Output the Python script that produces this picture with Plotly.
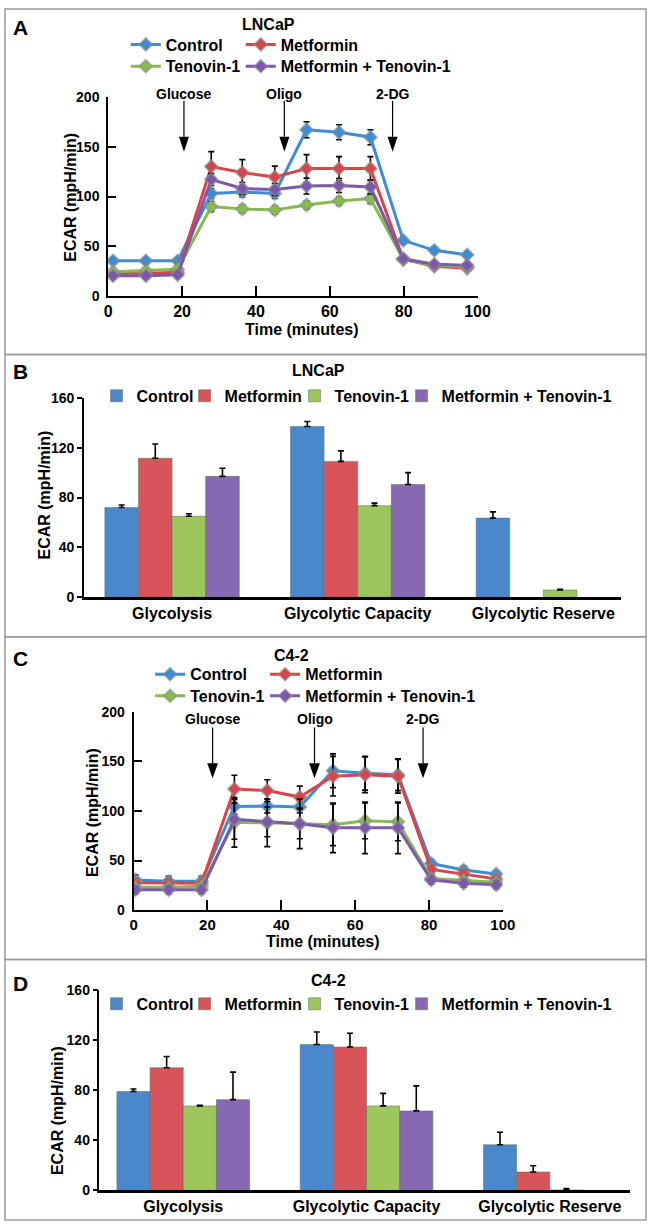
import plotly.graph_objects as go

# ── Figure size (pixels) ─────────────────────────────────────────────────────
W, H = 661, 1232

# ── Data: panels A / C (ECAR time course) ───────────────────────────────────
series = ["Control", "Metformin", "Tenovin-1", "Metformin + Tenovin-1"]

time_A = [1.3, 10.2, 18.8, 27.9, 36.3, 45.1, 53.7, 62.5, 71.0, 79.9, 88.3, 97.2]
control_A = [35.5, 35.5, 35.5, 103, 104.5, 103, 167, 164.5, 159.5, 56, 46, 41.5]
control_A_err = [3, 3, 3, 5, 5, 5, 8, 7.5, 7.5, 3, 3, 3]
metformin_A = [23, 23, 24, 130, 124, 119.5, 128, 128, 128, 37, 30, 28]
metformin_A_err = [3, 3, 3, 15, 13, 11, 14, 12, 12, 3, 3, 3]
tenovin_A = [24.5, 25.5, 27, 90, 87.5, 86.5, 91.5, 95.5, 98, 37, 31, 29.5]
tenovin_A_err = [3, 3, 3, 5, 4, 4, 4, 4, 5, 3, 3, 3]
combo_A = [20.5, 20.5, 21.5, 117, 108, 107, 110.5, 111, 109.5, 37.5, 32, 31]
combo_A_err = [3, 3, 3, 6, 6, 6, 8, 7, 7, 3, 3, 3]

time_C = [0.5, 9.5, 18.4, 27.3, 36.2, 45.0, 54.0, 62.7, 71.6, 80.6, 89.4, 98.2]
control_C = [30.5, 29, 29, 104.5, 105, 104, 140.5, 138, 136.5, 47, 40.5, 36.5]
control_C_err = [5, 5, 5, 8, 7, 6, 17, 17, 16, 4, 4, 3]
metformin_C = [27.5, 27, 27, 122, 120.5, 114, 135, 136.5, 135, 41, 36.5, 31.5]
metformin_C_err = [4, 4, 4, 14, 11, 11, 20, 18, 17, 4, 4, 3]
tenovin_C = [23, 23, 24, 88.5, 88, 87, 86, 90, 89, 32, 30, 28]
tenovin_C_err = [4, 4, 4, 25, 24, 25, 21, 18, 19, 4, 4, 4]
combo_C = [20.5, 20.5, 20.5, 91.5, 89, 87, 83, 83, 83, 30.5, 27, 25.5]
combo_C_err = [4, 4, 4, 20, 15, 15, 25, 26, 26, 4, 4, 4]

# injections
events = ["Glucose", "Oligo", "2-DG"]
event_time_A = [20.5, 47.7, 77.0]
event_time_C = [21.4, 49.0, 78.4]

# ── Data: panels B / D (glycolysis parameters) ──────────────────────────────
categories = ["Glycolysis", "Glycolytic Capacity", "Glycolytic Reserve"]

control_B = [72, 137, 63.5]
control_B_err = [2, 4, 5]
metformin_B = [111.5, 109, None]
metformin_B_err = [11.5, 8.5, 0]
tenovin_B = [65, 73.5, 5.8]
tenovin_B_err = [2, 2, 0.5]
combo_B = [97, 90.5, None]
combo_B_err = [6.5, 9.5, 0]

control_D = [79, 116.5, 36.5]
control_D_err = [2, 10, 10]
metformin_D = [98, 114.5, 14.7]
metformin_D_err = [9, 11, 5]
tenovin_D = [67.5, 67.5, 0.4]
tenovin_D_err = [0.5, 10, 1.2]
combo_D = [72.5, 63.5, None]
combo_D_err = [22, 20, 0]

LINE_COLOURS = ["#3a8dd6", "#db4447", "#86bb4e", "#7d57ab"]
BAR_COLOURS = ["#4a88cb", "#d9535b", "#9dc65c", "#8669b1"]
FONT = "Liberation Sans, Arial, sans-serif"


def px(x):
    return x / W


def py(y):
    return 1 - y / H


fig = go.Figure()


# ── Line panels ─────────────────────────────────────────────────────────────
LINE_LEGENDWIDTH = [70, 100, 70, 175]


def add_time_course(t, ys, errs, xa, ya, legends):
    for i, (name, y, e) in enumerate(zip(series, ys, errs)):
        fig.add_trace(go.Scatter(
            x=t, y=y, name=name, mode="lines+markers",
            line=dict(color=LINE_COLOURS[i], width=3),
            marker=dict(symbol="diamond", size=10, color=LINE_COLOURS[i],
                        line=dict(color="rgba(140,140,140,0.55)", width=2)),
            error_y=dict(type="data", array=e, color="black", thickness=1.6, width=3),
            xaxis=xa, yaxis=ya, legend=legends[i // 2],
            legendwidth=LINE_LEGENDWIDTH[i],
        ))


add_time_course(time_A, [control_A, metformin_A, tenovin_A, combo_A],
                [control_A_err, metformin_A_err, tenovin_A_err, combo_A_err],
                "x", "y", ["legend", "legend2"])
add_time_course(time_C, [control_C, metformin_C, tenovin_C, combo_C],
                [control_C_err, metformin_C_err, tenovin_C_err, combo_C_err],
                "x3", "y3", ["legend3", "legend4"])


# ── Bar panels ──────────────────────────────────────────────────────────────
BAR_LEGENDWIDTH = [43, 65, 62, 175]


def add_bars(ys, errs, xa, ya, legend):
    for i, (name, y, e) in enumerate(zip(series, ys, errs)):
        fig.add_trace(go.Bar(
            x=categories, y=y, name=name,
            marker=dict(color=BAR_COLOURS[i], line=dict(color="rgba(90,110,90,0.5)", width=1)),
            error_y=dict(type="data", symmetric=False, array=e, arrayminus=[0] * len(e),
                         color="black", thickness=1.6, width=3),
            xaxis=xa, yaxis=ya, legend=legend, legendwidth=BAR_LEGENDWIDTH[i],
        ))


add_bars([control_B, metformin_B, tenovin_B, combo_B],
         [control_B_err, metformin_B_err, tenovin_B_err, combo_B_err], "x2", "y2", "legend5")
add_bars([control_D, metformin_D, tenovin_D, combo_D],
         [control_D_err, metformin_D_err, tenovin_D_err, combo_D_err], "x4", "y4", "legend6")


# ── Arrows for injections ───────────────────────────────────────────────────
shapes = []
annotations = []


def note(x, y, text, size, xref="paper", angle=0):
    annotations.append(dict(x=x, y=y, xref=xref, yref="paper", text=text, textangle=angle,
                            xanchor="center", yanchor="middle", showarrow=False,
                            font=dict(size=size)))


def add_events(times, xref, yref, label_px, shaft_top, head_top, tip, half_w):
    for name, t in zip(events, times):
        note(t, py(label_px), name, 14, xref=xref)
        shapes.append(dict(type="line", xref=xref, yref=yref, x0=t, x1=t,
                           y0=shaft_top, y1=head_top, line=dict(color="black", width=1.2)))
        shapes.append(dict(type="path", xref=xref, yref=yref,
                           path=f"M{t - half_w},{head_top} L{t + half_w},{head_top} L{t},{tip} Z",
                           fillcolor="black", line=dict(width=0)))


add_events(event_time_A, "x", "y", 87, 196, 160, 145, 1.35)
add_events(event_time_C, "x3", "y3", 720, 184, 148, 133, 1.45)

# ── Panel boxes, letters, titles ────────────────────────────────────────────
panel_edges = [1, 351, 637, 964, 1228]
for top, bottom in zip(panel_edges[:-1], panel_edges[1:]):
    shapes.append(dict(type="rect", xref="paper", yref="paper",
                       x0=px(1), x1=px(659), y0=py(bottom), y1=py(top),
                       line=dict(color="#9a9a9a", width=1.5)))

for letter, (lx, ly) in zip("ABCD", [(17, 20), (17, 368), (17, 659), (17, 988)]):
    note(px(lx), py(ly), letter, 21)

for title, (tx, ty) in zip(["LNCaP", "LNCaP", "C4-2", "C4-2"],
                           [(271, 17), (323, 367), (295, 656), (333, 985)]):
    note(px(tx), py(ty), title, 16)

for (tx, ty) in [(68, 192), (42, 493), (91, 815), (55, 1117)]:
    note(px(tx), py(ty), "ECAR (mpH/min)", 16, angle=-90)

for (tx, ty) in [(306, 326), (327, 946)]:
    note(px(tx), py(ty), "Time (minutes)", 16)


# ── Axes ────────────────────────────────────────────────────────────────────
def time_axes(x0, x1, y0, y1, xfont):
    xa = dict(domain=[px(x0), px(x1)], range=[0, 100], tickvals=[0, 20, 40, 60, 80, 100],
              ticks="inside", ticklen=10, tickwidth=2, tickcolor="black",
              showline=True, linecolor="black", linewidth=2, showgrid=False, zeroline=False,
              tickfont=dict(size=xfont))
    ya = dict(domain=[py(y0), py(y1)], range=[0, 200], tickvals=[0, 50, 100, 150, 200],
              ticks="inside", ticklen=8, tickwidth=1.5, tickcolor="black",
              showline=True, linecolor="black", linewidth=2, showgrid=False, zeroline=False,
              tickfont=dict(size=14), ticklabelstandoff=4)
    return xa, ya


def bar_axes(x0, x1, y0, y1, r0, r1):
    xa = dict(domain=[px(x0), px(x1)], type="category", range=[r0, r1],
              ticks="", showline=True, linecolor="black", linewidth=2.5,
              showgrid=False, zeroline=False, tickfont=dict(size=16))
    ya = dict(domain=[py(y0), py(y1)], range=[0, 160], tickvals=[0, 40, 80, 120, 160],
              ticks="outside", ticklen=5, tickwidth=1.5, tickcolor="black",
              showline=True, linecolor="black", linewidth=1.5, showgrid=False, zeroline=False,
              tickfont=dict(size=14))
    return xa, ya


xA, yA = time_axes(107, 486, 292, 90, 16)
xB, yB = bar_axes(82, 633, 597, 395, -0.475, 2.417)
xC, yC = time_axes(133, 512, 914, 713, 15)
xD, yD = bar_axes(98, 643, 1198, 995, -0.457, 2.44)
yA["anchor"], xA["anchor"] = "x", "y"
xB["anchor"], yB["anchor"] = "y2", "x2"
xC["anchor"], yC["anchor"] = "y3", "x3"
xD["anchor"], yD["anchor"] = "y4", "x4"


def legend_at(x, y):
    return dict(x=px(x), y=py(y), xanchor="left", yanchor="middle", orientation="h",
                bgcolor="rgba(0,0,0,0)", font=dict(size=16))


fig.update_layout(
    width=W, height=H,
    margin=dict(l=0, r=0, t=0, b=0),
    paper_bgcolor="white", plot_bgcolor="white",
    font=dict(family=FONT, color="black", size=14, weight="bold"),
    barmode="group", bargap=0.276, bargroupgap=0,
    xaxis=xA, yaxis=yA, xaxis2=xB, yaxis2=yB,
    xaxis3=xC, yaxis3=yC, xaxis4=xD, yaxis4=yD,
    legend=legend_at(125, 37), legend2=legend_at(125, 59),
    legend3=legend_at(150, 675), legend4=legend_at(150, 697),
    legend5=legend_at(95, 393), legend6=legend_at(95, 1009),
    shapes=shapes, annotations=annotations,
    showlegend=True,
)

fig.write_html("out.html", config={"displayModeBar": False},
               post_script="document.body.style.margin='0';")
